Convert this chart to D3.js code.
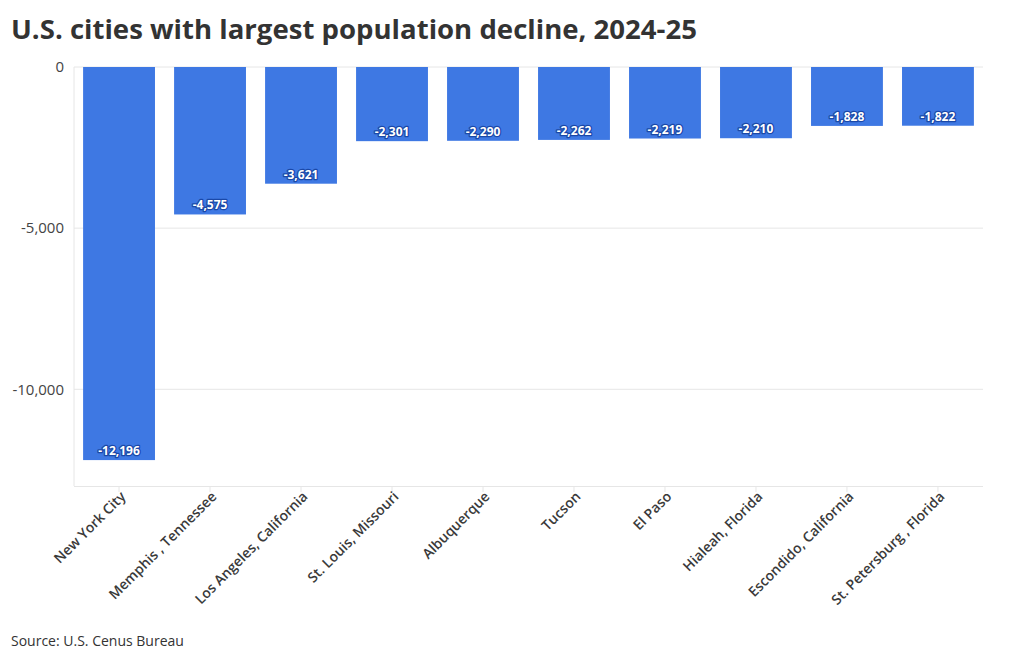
<!DOCTYPE html>
<html><head><meta charset="utf-8">
<script src="https://cdn.jsdelivr.net/npm/d3@7"></script>
<style>
body{margin:0;background:#fff;}
svg{display:block;}
</style></head>
<body>
<svg id="chart" width="1020" height="661"></svg>
<script>
const cities = ["New York City","Memphis , Tennessee","Los Angeles, California","St. Louis, Missouri","Albuquerque","Tucson","El Paso","Hialeah, Florida","Escondido, California","St. Petersburg , Florida"];
const changes = [-12196,-4575,-3621,-2301,-2290,-2262,-2219,-2210,-1828,-1822];
const yTicks = [0,-5000,-10000];
const titleText = "U.S. cities with largest population decline, 2024-25";
const sourceText = "Source: U.S. Cenus Bureau";

const svg = d3.select("#chart");
const mLeft = 74, mRight = 983, mTop = 67, mBottom = 486;

const x = d3.scaleBand().domain(cities).range([mLeft, mRight]).paddingInner(0.21).paddingOuter(0.1);
const y = d3.scaleLinear().domain([0, -13000]).range([mTop, mBottom]);

const title = svg.append("text").attr("x", 11).attr("y", 39)
  .attr("font-family", "'Open Sans', sans-serif").attr("font-weight", 700)
  .attr("font-size", 27).attr("fill", "#333").text(titleText);
// fit title to reference width
const tw = title.node().getComputedTextLength();
if (tw > 0) title.attr("textLength", 686).attr("lengthAdjust", "spacingAndGlyphs");

// grid
svg.append("g").selectAll("line").data(yTicks).join("line")
  .attr("x1", mLeft).attr("x2", mRight).attr("y1", d => y(d)).attr("y2", d => y(d))
  .attr("stroke", "#e6e6e6").attr("stroke-width", 1);
svg.append("line").attr("x1", mLeft).attr("x2", mLeft).attr("y1", mTop).attr("y2", mBottom)
  .attr("stroke", "#e6e6e6");

// y axis
const yAxis = d3.axisLeft(y).tickValues(yTicks).tickSize(0).tickPadding(10)
  .tickFormat(d => d3.format(",")(d).replace("−","-"));
const gy = svg.append("g").attr("transform", `translate(${mLeft},0)`).call(yAxis);
gy.select(".domain").remove();
gy.selectAll("text").attr("font-family", "'Open Sans', sans-serif").attr("font-size", 15).attr("fill", "#444");

// bars
svg.append("g").selectAll("rect").data(changes).join("rect")
  .attr("x", (d,i) => x(cities[i])).attr("width", x.bandwidth())
  .attr("y", y(0)).attr("height", d => y(d) - y(0))
  .attr("fill", "#3e78e3");

// value labels
svg.append("g").selectAll("text").data(changes).join("text")
  .attr("x", (d,i) => x(cities[i]) + x.bandwidth()/2)
  .attr("y", d => y(d) - 5)
  .attr("text-anchor", "middle")
  .attr("font-family", "'Open Sans', sans-serif").attr("font-weight", 700).attr("font-size", 12)
  .attr("fill", "#fff").attr("stroke", "#1a48a8").attr("stroke-width", 2.5)
  .attr("paint-order", "stroke").attr("stroke-linejoin", "round")
  .text(d => d3.format(",")(d).replace("−","-"));

// x axis
const xAxis = d3.axisBottom(x).tickSize(6).tickPadding(4);
const gx = svg.append("g").attr("transform", `translate(0,${mBottom})`).call(xAxis);
gx.select(".domain").attr("stroke", "#e6e6e6").attr("d", `M${mLeft},0.5H${mRight}`);
gx.selectAll(".tick line").attr("stroke", "#e6e6e6");
gx.selectAll(".tick text")
  .attr("font-family", "'Open Sans', sans-serif").attr("font-weight", 600).attr("font-size", 14)
  .attr("fill", "#3a3a3a").attr("text-anchor", "end")
  .attr("transform", "translate(4,8) rotate(-45)").attr("dy", "0.35em").attr("y", 0).attr("x", 0);

svg.append("text").attr("x", 11).attr("y", 646)
  .attr("font-family", "'Open Sans', sans-serif").attr("font-size", 14).attr("fill", "#333").text(sourceText);
</script>
</body></html>
